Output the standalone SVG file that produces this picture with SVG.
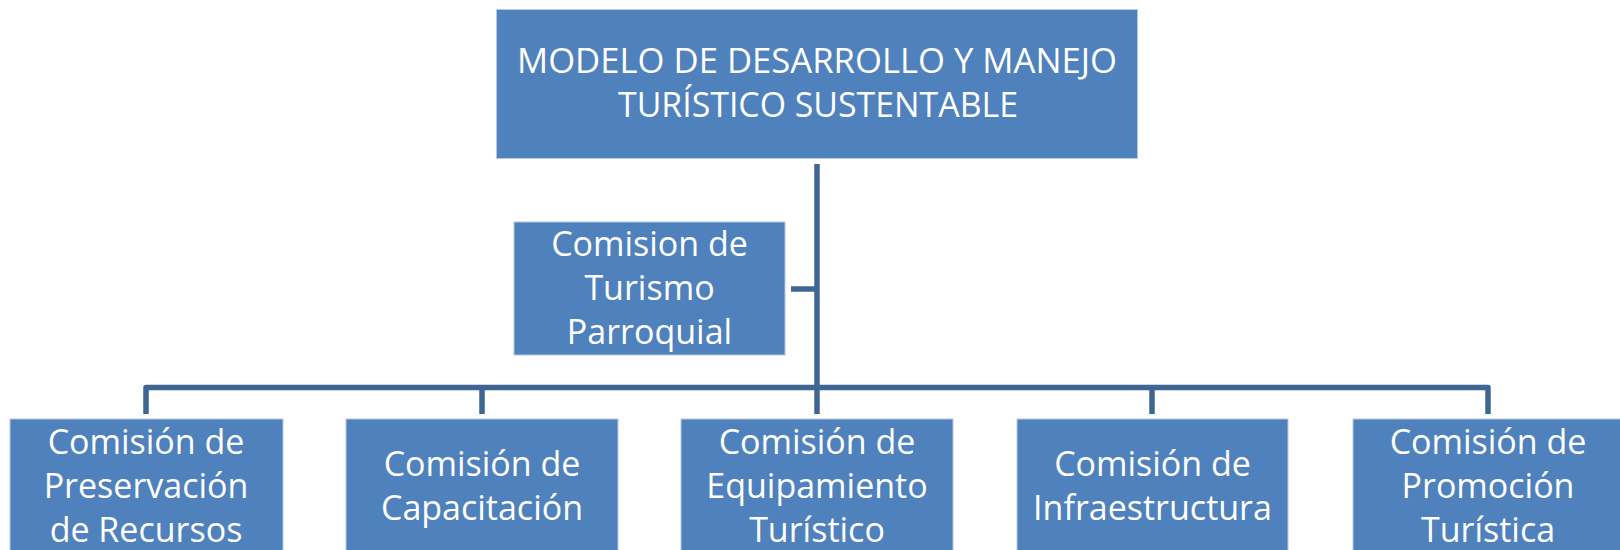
<svg xmlns="http://www.w3.org/2000/svg" width="1620" height="550" viewBox="0 0 1620 550">
<style>
.box{fill:#4F81BD;stroke:#B4C8E3;stroke-width:1}
.t{font-family:"Open Sans","Noto Sans","Liberation Sans",sans-serif;font-size:34px;fill:#FFFFFF;text-anchor:middle}
.c{fill:none;stroke:#3F6593;stroke-width:5.5;stroke-linejoin:round}
</style>
<rect width="1620" height="550" fill="#FFFFFF"/>
<g id="connectors">
<line class="c" x1="817" y1="164" x2="817" y2="414"/>
<line class="c" x1="791" y1="289" x2="817" y2="289"/>
<path class="c" d="M146,414 V387.5 H1488 V414"/>
<line class="c" x1="482" y1="387.5" x2="482" y2="414"/>
<line class="c" x1="1152" y1="387.5" x2="1152" y2="414"/>
</g>
<g id="node-top">
<rect class="box" x="496.5" y="9.5" width="641" height="149"/>
<text class="t" x="817" y="73" textLength="600" lengthAdjust="spacingAndGlyphs">MODELO DE DESARROLLO Y MANEJO</text>
<text class="t" x="818" y="117" textLength="400" lengthAdjust="spacingAndGlyphs">TURÍSTICO SUSTENTABLE</text>
</g>
<g id="node-turismo">
<rect class="box" x="514" y="222" width="271" height="133"/>
<text class="t" x="649.5" y="256">Comision de</text>
<text class="t" x="649.5" y="300">Turismo</text>
<text class="t" x="649.5" y="344">Parroquial</text>
</g>
<g id="node-preservacion">
<rect class="box" x="10" y="419" width="273" height="150"/>
<text class="t" x="146" y="454">Comisión de</text>
<text class="t" x="146" y="498">Preservación</text>
<text class="t" x="146" y="542">de Recursos</text>
</g>
<g id="node-capacitacion">
<rect class="box" x="346" y="419" width="272" height="150"/>
<text class="t" x="482" y="476">Comisión de</text>
<text class="t" x="482" y="520">Capacitación</text>
</g>
<g id="node-equipamiento">
<rect class="box" x="681" y="419" width="272" height="150"/>
<text class="t" x="817" y="454">Comisión de</text>
<text class="t" x="817" y="498">Equipamiento</text>
<text class="t" x="817" y="542">Turístico</text>
</g>
<g id="node-infraestructura">
<rect class="box" x="1017" y="419" width="271" height="150"/>
<text class="t" x="1152.5" y="476">Comisión de</text>
<text class="t" x="1152.5" y="520">Infraestructura</text>
</g>
<g id="node-promocion">
<rect class="box" x="1353" y="419" width="272" height="150"/>
<text class="t" x="1488" y="454">Comisión de</text>
<text class="t" x="1488" y="498">Promoción</text>
<text class="t" x="1488" y="542">Turística</text>
</g>
</svg>
